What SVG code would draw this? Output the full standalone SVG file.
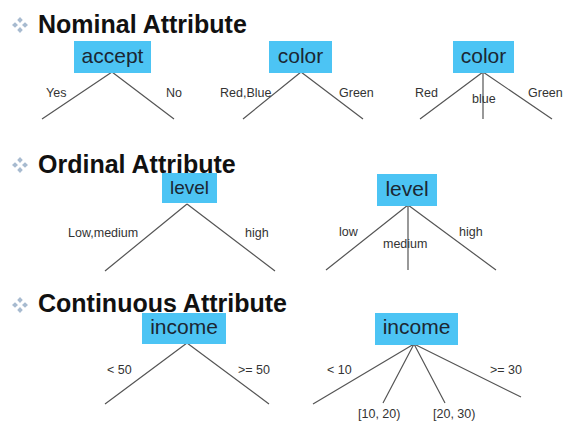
<svg xmlns="http://www.w3.org/2000/svg" width="563" height="421" viewBox="0 0 563 421">
<style>
.title{font-family:"Liberation Sans",Arial,sans-serif;font-weight:bold;font-size:25px;fill:#111}
.box{fill:#4CC4F4}
.bt{font-family:"Liberation Sans",Arial,sans-serif;font-size:21px;fill:#1b2733;text-anchor:middle}
.lb{font-family:"Liberation Sans",Arial,sans-serif;font-size:12.5px;fill:#333}
.edge{stroke:#555;stroke-width:1.2;fill:none}
.bul{fill:#A8BBD0}
</style>
<defs>
<g id="bullet">
<path class="bul" d="M0,-8 L2.8,-5 L0,-2 L-2.8,-5Z M0,8 L2.8,5 L0,2 L-2.8,5Z M-8,0 L-5,2.8 L-2,0 L-5,-2.8Z M8,0 L5,2.8 L2,0 L5,-2.8Z"/>
</g>
</defs>
<rect width="563" height="421" fill="#fff"/>

<g id="titles">
<use href="#bullet" x="20" y="25"/>
<text class="title" x="38" y="33">Nominal Attribute</text>
<use href="#bullet" x="20" y="165"/>
<text class="title" x="38" y="173">Ordinal Attribute</text>
<use href="#bullet" x="20" y="305"/>
<text class="title" x="38" y="312">Continuous Attribute</text>
</g>

<g id="connectors">
<path class="edge" d="M112,72 L42,119 M112,72 L174,119"/>
<path class="edge" d="M301,72 L243,119 M301,72 L363,119"/>
<path class="edge" d="M483,72 L420,119 M483,72 L483,119 M483,72 L552,119"/>
<path class="edge" d="M187,204 L105,271 M187,204 L275,271"/>
<path class="edge" d="M408,205 L326,270 M408,205 L408,270 M408,205 L496,270"/>
<path class="edge" d="M187,343 L105,404 M187,343 L269,404"/>
<path class="edge" d="M414,344 L313,404 M414,344 L383,403 M414,344 L445,403 M414,344 L521,397"/>
</g>

<g id="accept">
<rect class="box" x="74" y="41" width="77" height="32"/>
<text class="bt" x="112.5" y="63">accept</text>
</g>
<g id="color1">
<rect class="box" x="269" y="41" width="63" height="32"/>
<text class="bt" x="300.5" y="63">color</text>
</g>
<g id="color2">
<rect class="box" x="453" y="41" width="61" height="32"/>
<text class="bt" x="483.5" y="63">color</text>
</g>
<g id="level1">
<rect class="box" x="162" y="173" width="55" height="30"/>
<text class="bt" x="189.5" y="194" style="font-size:19px">level</text>
</g>
<g id="level2">
<rect class="box" x="377" y="174" width="60" height="32"/>
<text class="bt" x="407" y="196">level</text>
</g>
<g id="income1">
<rect class="box" x="142" y="313" width="84" height="31"/>
<text class="bt" x="184" y="334">income</text>
</g>
<g id="income2">
<rect class="box" x="375" y="313" width="83" height="32"/>
<text class="bt" x="416.5" y="334">income</text>
</g>

<g id="labels">
<text class="lb" x="46" y="97">Yes</text>
<text class="lb" x="166" y="97">No</text>
<text class="lb" x="220" y="97">Red,Blue</text>
<text class="lb" x="339" y="97">Green</text>
<text class="lb" x="415" y="97">Red</text>
<text class="lb" x="472" y="103">blue</text>
<text class="lb" x="528" y="97">Green</text>
<text class="lb" x="68" y="237">Low,medium</text>
<text class="lb" x="245" y="237">high</text>
<text class="lb" x="339" y="236">low</text>
<text class="lb" x="383" y="248">medium</text>
<text class="lb" x="459" y="236">high</text>
<text class="lb" x="107" y="374">&lt; 50</text>
<text class="lb" x="238" y="374">&gt;= 50</text>
<text class="lb" x="327" y="374">&lt; 10</text>
<text class="lb" x="490" y="374">&gt;= 30</text>
<text class="lb" x="358" y="418">[10, 20)</text>
<text class="lb" x="433" y="418">[20, 30)</text>
</g>
</svg>
